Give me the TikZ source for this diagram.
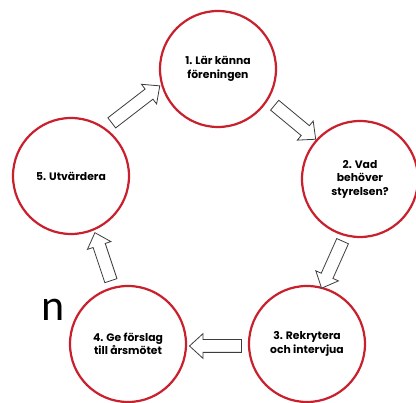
\documentclass[tikz,border=0pt]{standalone}
\usepackage{fontspec}
\newfontfamily\popfont{Poppins}
\newfontfamily\carfont{Carlito}
\usetikzlibrary{shapes.arrows,calc}
\definecolor{ringred}{RGB}{200,32,44}
\definecolor{arrgray}{RGB}{60,60,60}
\tikzset{
  ring/.style={circle,draw=ringred,line width=2.2pt,fill=white,minimum size=116pt,inner sep=0pt,
    align=center,font=\popfont\bfseries\fontsize{10.8}{13.5}\selectfont},
  blk/.style={single arrow,draw=arrgray,line width=0.8pt,fill=white,inner xsep=0pt,inner ysep=6pt,
    single arrow head extend=6pt,single arrow tip angle=85,minimum height=#1,sloped,allow upside down},
}
\begin{document}
\begin{tikzpicture}[x=1pt,y=1pt]
\useasboundingbox (0,0) rectangle (416,403);
\fill[white] (0,0) rectangle (416,403);
\node[ring] (c1) at (218,334) {1. Lär känna\\föreningen};
\node[ring] (c2) at (360,224) {2. Vad\\behöver\\styrelsen?};
\node[ring] (c3) at (307,59) {3. Rekrytera\\och intervjua};
\node[ring] (c4) at (128,59) {4. Ge förslag\\till årsmötet};
\node[ring] (c5) at (71,227) {5. Utvärdera};
\coordinate (t51) at (109,278); \coordinate (h51) at (157,315);
\coordinate (t12) at (272,300); \coordinate (h12) at (313,266);
\coordinate (t23) at (344,165); \coordinate (h23) at (323,118);
\coordinate (t34) at (245,57);  \coordinate (h34) at (193,57);
\coordinate (t45) at (112,119); \coordinate (h45) at (96,167);
\path (t51) -- node[blk=60.6pt] (a51) {} (h51);
\path (t12) -- node[blk=53.3pt] (a12) {} (h12);
\path (t23) -- node[blk=51.5pt] (a23) {} (h23);
\path (t34) -- node[blk=52pt] (a34) {} (h34);
\path (t45) -- node[blk=50.6pt] (a45) {} (h45);
\node[anchor=base,font=\carfont\fontsize{44}{44}\selectfont,inner sep=0pt] (nn) at (53,82) {n};
\end{tikzpicture}
\end{document}
